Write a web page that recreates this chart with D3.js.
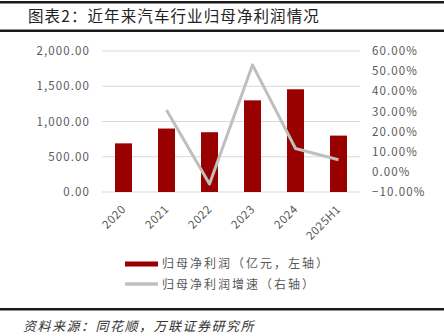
<!DOCTYPE html>
<html>
<head>
<meta charset="utf-8">
<script src="https://cdn.jsdelivr.net/npm/d3@7"></script>
<style>
  html, body { margin: 0; padding: 0; background: #fff; }
  svg { display: block; }
</style>
</head>
<body>
<svg id="chart" width="444" height="336"></svg>
<script>
const categories = ["2020", "2021", "2022", "2023", "2024", "2025H1"];
const profit = [690, 900, 848, 1300, 1457, 800];
const growth = [null, 30.7, -6.0, 53.1, 11.6, 6.0];
const leftTicks = [0, 500, 1000, 1500, 2000];
const rightTicks = [-10, 0, 10, 20, 30, 40, 50, 60];
const titleText = "图表2：近年来汽车行业归母净利润情况";
const sourceText = "资料来源：同花顺，万联证券研究所";
const legendLabels = ["归母净利润（亿元，左轴）", "归母净利润增速（右轴）"];

const svg = d3.select("#chart");
const FONT = "'Noto Sans CJK SC', 'Noto Sans', sans-serif";
const textColor = "#595959";

// Rules
svg.append("rect").attr("x", 0).attr("y", 1).attr("width", 444).attr("height", 2.5).attr("fill", "#1a1a1a");
svg.append("rect").attr("x", 0).attr("y", 29.5).attr("width", 444).attr("height", 2.5).attr("fill", "#1a1a1a");
svg.append("rect").attr("x", 0).attr("y", 308).attr("width", 444).attr("height", 2.5).attr("fill", "#1a1a1a");

svg.append("text").attr("x", 28).attr("y", 22)
  .attr("font-family", FONT).attr("font-size", 15.5).attr("fill", "#222")
  .attr("letter-spacing", 1.1)
  .text(titleText);

svg.append("text").attr("x", 23).attr("y", 331)
  .attr("font-family", FONT).attr("font-size", 13).attr("font-style", "italic")
  .attr("fill", "#333").attr("letter-spacing", 1.5)
  .text(sourceText);

// Scales
const x = d3.scaleBand().domain(categories).range([102, 360]).padding(0);
const yL = d3.scaleLinear().domain([0, 2000]).range([192, 51]);
const yR = d3.scaleLinear().domain([-10, 60]).range([192, 51]);

// Gridlines
svg.append("g").selectAll("line").data(leftTicks).join("line")
  .attr("x1", 102).attr("x2", 360)
  .attr("y1", d => yL(d)).attr("y2", d => yL(d))
  .attr("stroke", "#d9d9d9").attr("stroke-width", 1);

// Left axis
const fmtL = d3.format(",.2f");
const gL = svg.append("g").attr("transform", "translate(90,0)")
  .call(d3.axisLeft(yL).tickValues(leftTicks).tickSize(0).tickPadding(0).tickFormat(fmtL));
gL.select(".domain").remove();
gL.selectAll("text").attr("font-family", FONT).attr("font-size", 11.5)
  .attr("fill", textColor).attr("letter-spacing", 1.1);

// Right axis
const fmtR = d => d3.format(".2f")(d).replace("-", "−") + "%";
const gR = svg.append("g").attr("transform", "translate(372,0)")
  .call(d3.axisRight(yR).tickValues(rightTicks).tickSize(0).tickPadding(0).tickFormat(fmtR));
gR.select(".domain").remove();
gR.selectAll("text").attr("font-family", FONT).attr("font-size", 11.5)
  .attr("fill", textColor).attr("letter-spacing", 1.1);

// Bars
const barW = 17;
svg.append("g").selectAll("rect").data(categories).join("rect")
  .attr("x", (d) => x(d) + x.bandwidth() / 2 - barW / 2)
  .attr("width", barW)
  .attr("y", (d, i) => yL(profit[i]))
  .attr("height", (d, i) => yL(0) - yL(profit[i]))
  .attr("fill", "#990000");

// Line
const lineData = categories.map((c, i) => ({ c, v: growth[i] })).filter(d => d.v !== null);
const line = d3.line().x(d => x(d.c) + x.bandwidth() / 2).y(d => yR(d.v));
svg.append("path").datum(lineData).attr("d", line)
  .attr("fill", "none").attr("stroke", "#bfbfbf").attr("stroke-width", 3)
  .attr("stroke-linejoin", "round");

// X labels
svg.append("g").selectAll("text").data(categories).join("text")
  .attr("transform", d => `translate(${x(d) + x.bandwidth() / 2 + 3},210) rotate(-45)`)
  .attr("text-anchor", "end")
  .attr("font-family", FONT).attr("font-size", 11.5).attr("fill", textColor)
  .attr("letter-spacing", 0.5)
  .text(d => d);

// Legend
svg.append("rect").attr("x", 125).attr("y", 261.5).attr("width", 33).attr("height", 5).attr("fill", "#990000");
svg.append("text").attr("x", 162).attr("y", 268)
  .attr("font-family", FONT).attr("font-size", 12).attr("fill", textColor).attr("letter-spacing", 2)
  .text(legendLabels[0]);
svg.append("line").attr("x1", 125).attr("x2", 158).attr("y1", 284).attr("y2", 284)
  .attr("stroke", "#bfbfbf").attr("stroke-width", 3.5);
svg.append("text").attr("x", 162).attr("y", 289)
  .attr("font-family", FONT).attr("font-size", 12).attr("fill", textColor).attr("letter-spacing", 2)
  .text(legendLabels[1]);
</script>
</body>
</html>
